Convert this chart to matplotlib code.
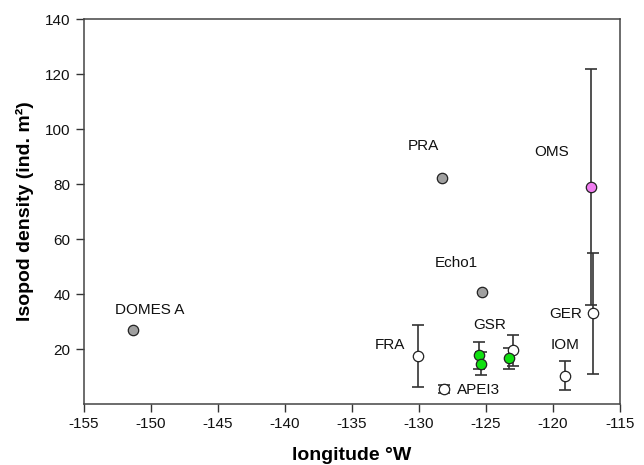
import matplotlib
matplotlib.use("Agg")
import matplotlib.pyplot as plt

plt.rcParams['font.family'] = ['Liberation Sans', 'DejaVu Sans']
plt.rcParams['axes.unicode_minus'] = False

# Data (longitude °W, density, error)
gray_x = [-151.3, -128.3, -125.3]
gray_y = [27.0, 82.2, 40.8]

white_x = [-130.05, -128.1, -123.0, -119.1, -117.0]
white_y = [17.5, 5.4, 19.5, 10.3, 33.0]
white_err = [11.3, 1.5, 5.6, 5.3, 22.0]

green_x = [-125.5, -125.4, -123.3]
green_y = [17.7, 14.6, 16.6]
green_err = [4.9, 4.2, 3.9]

pink_x = [-117.2]
pink_y = [79.0]
pink_err = [43.0]

labels = ["DOMES A", "PRA", "Echo1", "OMS", "FRA", "GSR", "GER", "IOM", "APEI3"]
label_x = [-150.1, -129.7, -127.2, -120.1, -132.2, -124.7, -117.8, -119.1, -127.2]
label_y = [34.2, 93.8, 51.3, 91.6, 21.5, 28.7, 32.7, 21.5, 5.1]
label_ha = ["center", "center", "center", "center", "center", "center", "right", "center", "left"]

fig = plt.figure(figsize=(6.44, 4.65), dpi=100)
ax = fig.add_axes([0.130, 0.131, 0.833, 0.828])

ecol = "#333333"
ekw = dict(fmt="none", ecolor=ecol, elinewidth=1.2, capsize=4.5, capthick=1.2, zorder=2)
ax.errorbar(pink_x, pink_y, yerr=pink_err, **ekw)
ax.errorbar(white_x, white_y, yerr=white_err, **ekw)
ax.errorbar(green_x, green_y, yerr=green_err, **ekw)

mkw = dict(s=56, edgecolors="#222222", linewidths=0.9, zorder=3)
ax.scatter(gray_x, gray_y, c="#a0a0a0", **mkw)
ax.scatter(white_x, white_y, c="white", **mkw)
ax.scatter(green_x, green_y, c="#10e010", **mkw)
ax.scatter(pink_x, pink_y, c="#f07cf0", **mkw)

for t, x, y, ha in zip(labels, label_x, label_y, label_ha):
    ax.text(x, y, t, ha=ha, va="center", fontsize=11, color="#111111")

ax.set_xlim(-155, -115)
ax.set_ylim(0, 140)
ax.set_xticks(range(-155, -114, 5))
ax.set_yticks(range(20, 141, 20))
ax.tick_params(direction="out", length=6, width=1, colors="#333333", labelsize=11, labelcolor="#111111")
for s in ax.spines.values():
    s.set_color("#444444")
    s.set_linewidth(1.1)

ax.set_xlabel("longitude °W", fontsize=14, fontweight="bold", labelpad=11)
ax.set_ylabel("Isopod density (ind. m²)", fontsize=14, fontweight="bold", labelpad=8)

fig.savefig("out.png", dpi=100)
